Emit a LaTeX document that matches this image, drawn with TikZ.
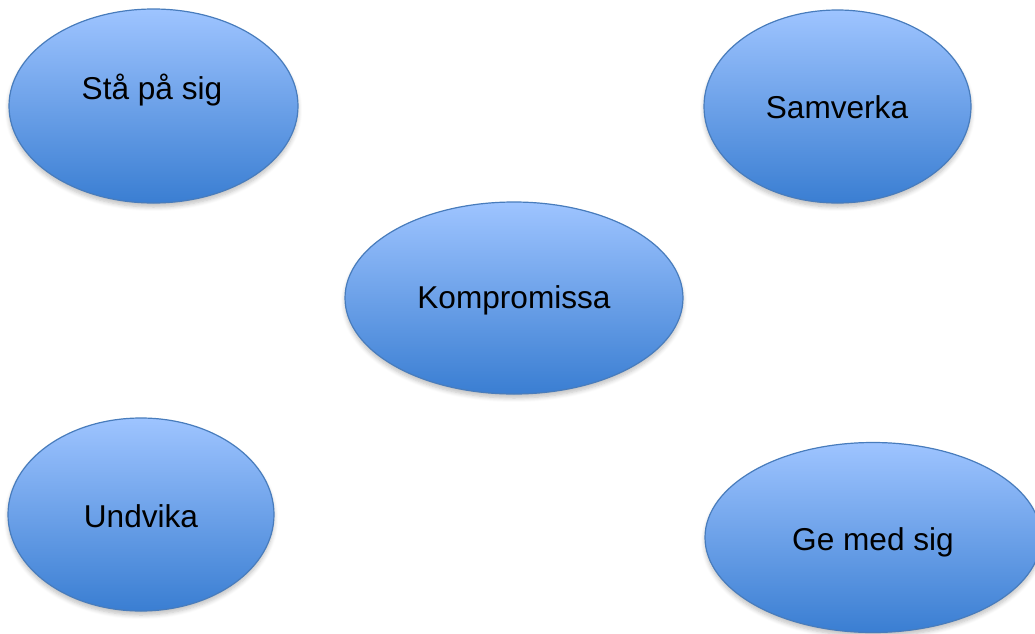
\documentclass[tikz,border=0pt]{standalone}
\usepackage{fontspec}
\setmainfont{Liberation Sans}
\usetikzlibrary{shapes.geometric,shadows.blur}

\definecolor{bubbletop}{RGB}{158,196,255}
\definecolor{bubblebot}{RGB}{58,126,210}
\definecolor{bubbleline}{RGB}{72,124,188}

\tikzset{
  bubble/.style={ellipse, draw=bubbleline, line width=0.6pt, inner sep=0pt,
    top color=bubbletop, bottom color=bubblebot,
    blur shadow={shadow xshift=0pt, shadow yshift=-2pt, shadow blur steps=6, shadow opacity=25}},
  word/.style={font=\fontsize{15.8}{19}\selectfont, text=black, inner sep=0pt}
}

\begin{document}
\begin{tikzpicture}[x=0.5pt,y=-0.5pt]
    \useasboundingbox (0,0) rectangle (1035,633);

    % ellipser
    \node[bubble, minimum width=144.5pt, minimum height=97pt] (sta) at (153.5,106) {};
    \node[bubble, minimum width=133.5pt, minimum height=96.5pt] (sam) at (837.5,106.5) {};
    \node[bubble, minimum width=169pt, minimum height=96pt] (kom) at (514,298) {};
    \node[bubble, minimum width=133pt, minimum height=96.5pt] (und) at (141,514.5) {};
    \node[bubble, minimum width=168pt, minimum height=95pt] (ge) at (873,537.5) {};

    % texter
    \node[word] (tsta) at (152,90) {Stå på sig};
    \node[word] (tsam) at (837,107) {Samverka};
    \node[word] (tkom) at (514,300) {Kompromissa};
    \node[word] (tund) at (141,516) {Undvika};
    \node[word] (tge) at (873,542) {Ge med sig};

\end{tikzpicture}
\end{document}
